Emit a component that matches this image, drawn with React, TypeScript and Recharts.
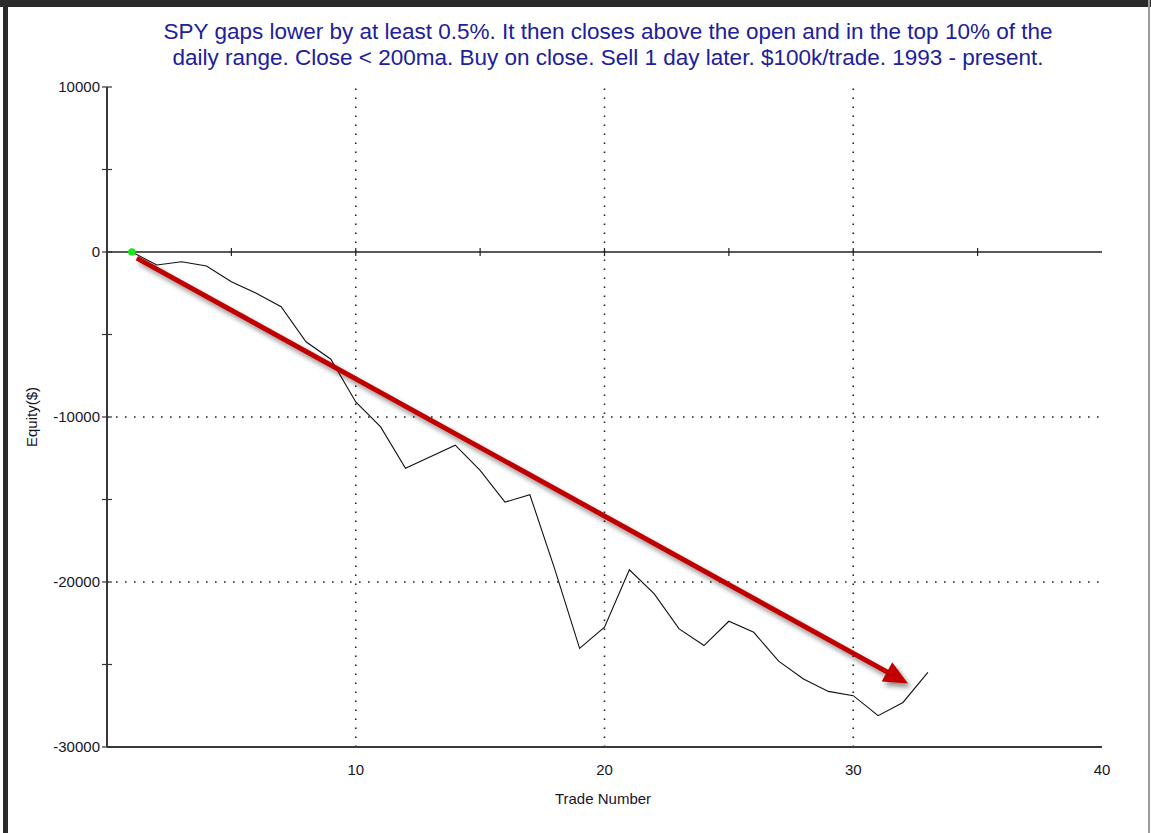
import React from 'react';
import { LineChart, Line, XAxis, YAxis, ReferenceLine, ReferenceDot } from 'recharts';

const tradeNumbers = [1, 2, 3, 4, 5, 6, 7, 8, 9, 10, 11, 12, 13, 14, 15, 16, 17, 18, 19, 20, 21, 22, 23, 24, 25, 26, 27, 28, 29, 30, 31, 32, 33];
const equity = [0, -790, -590, -850, -1800, -2500, -3320, -5440, -6500, -9090, -10600, -13110, -12410, -11710, -13230, -15160, -14710, -19220, -24020, -22740, -19260, -20720, -22840, -23850, -22380, -23050, -24800, -25880, -26630, -26890, -28100, -27300, -25480];

const xTicks = [10, 20, 30, 40];
const yTicks = [-30000, -25000, -20000, -15000, -10000, -5000, 0, 5000, 10000];
const gridX = [10, 20, 30];
const gridY = [-10000, -20000];
const zeroLineTicks = [5, 10, 15, 20, 25, 30, 35];

// trend arrow drawn on the chart (trade, equity)
const arrowFrom = { trade: 1.2, equity: -370 };
const arrowTo = { trade: 32.2, equity: -26150 };

const titleLines = [
  'SPY gaps lower by at least 0.5%. It then closes above the open and in the top 10% of the',
  'daily range. Close < 200ma. Buy on close. Sell 1 day later. $100k/trade. 1993 - present.',
];

const data = tradeNumbers.map((t, i) => ({ trade: t, equity: equity[i] }));

const FONT = '"Liberation Sans", Arial, sans-serif';
const TEXT = '#16162a';

const YTick = (props: any) => {
  const { x, y, payload } = props;
  const v = payload.value;
  return (
    <g>
      <line x1={x + 2} x2={x + 12} y1={y} y2={y} stroke="#333" strokeWidth={1.2} />
      {v % 10000 === 0 && (
        <text x={x} y={y} dy="0.36em" textAnchor="end" fontSize={15} fontFamily={FONT} fill={TEXT}>
          {v}
        </text>
      )}
    </g>
  );
};

const Arrow = (props: any) => {
  const { x1, y1, x2, y2 } = props;
  const dx = x2 - x1;
  const dy = y2 - y1;
  const len = Math.sqrt(dx * dx + dy * dy);
  const ux = dx / len;
  const uy = dy / len;
  const headLen = 24;
  const headHalf = 11;
  const bx = x2 - ux * headLen;
  const by = y2 - uy * headLen;
  const pts = `${x2},${y2} ${bx - uy * headHalf},${by + ux * headHalf} ${bx + uy * headHalf},${by - ux * headHalf}`;
  return (
    <g filter="url(#arrowShadow)">
      <defs>
        <filter id="arrowShadow" x="-20%" y="-20%" width="140%" height="140%">
          <feDropShadow dx="3" dy="4" stdDeviation="2.5" floodColor="#000" floodOpacity="0.45" />
        </filter>
      </defs>
      <line x1={x1} y1={y1} x2={bx + ux * 2} y2={by + uy * 2} stroke="#c00000" strokeWidth={5} />
      <polygon points={pts} fill="#c00000" />
    </g>
  );
};

const ZeroTick = (props: any) => {
  const { cx, cy } = props;
  return <line x1={cx} x2={cx} y1={cy - 4} y2={cy + 4} stroke="#222" strokeWidth={1.2} />;
};

const StartDot = (props: any) => {
  const { cx, cy, index } = props;
  if (index !== 0) return <g key={`d${index}`} />;
  return <circle key="start" cx={cx} cy={cy} r={3.8} fill="#1ee61e" stroke="none" />;
};

export default function App() {
  return (
    <div style={{ position: 'absolute', left: 0, top: 0, width: 1151, height: 833, background: '#fff', overflow: 'hidden' }}>
      <div style={{ position: 'absolute', left: 0, top: 0, width: 1151, height: 7, background: '#2b2b2b' }} />
      <div style={{ position: 'absolute', left: 3, top: 0, width: 5, height: 833, background: '#2b2b2b' }} />
      <div style={{ position: 'absolute', left: 1148, top: 0, width: 2, height: 833, background: '#9a9a9a' }} />

      <div
        style={{
          position: 'absolute',
          left: 108,
          top: 19,
          width: 1000,
          textAlign: 'center',
          fontFamily: FONT,
          fontSize: 22.5,
          lineHeight: '26px',
          color: '#20209a',
        }}
      >
        {titleLines.map((l) => (
          <div key={l}>{l}</div>
        ))}
      </div>

      <div style={{ position: 'absolute', left: 0, top: 0 }}>
        <LineChart width={1151} height={833} data={data} margin={{ top: 87, right: 49, bottom: 46, left: 47 }}>
          <XAxis
            xAxisId="top"
            orientation="top"
            dataKey="trade"
            type="number"
            domain={[0, 40]}
            height={0}
            tick={false}
            tickLine={false}
            axisLine={{ stroke: '#3a3a3a', strokeWidth: 2 }}
          />
          <XAxis
            dataKey="trade"
            type="number"
            domain={[0, 40]}
            ticks={xTicks}
            height={40}
            tickSize={0}
            tickMargin={17}
            tickLine={false}
            axisLine={{ stroke: '#3a3a3a', strokeWidth: 2 }}
            tick={{ fontSize: 15, fontFamily: FONT, fill: TEXT }}
          />
          <YAxis
            type="number"
            domain={[-30000, 10000]}
            ticks={yTicks}
            width={60}
            tickSize={0}
            tickMargin={7}
            tickLine={false}
            interval={0}
            axisLine={{ stroke: '#3a3a3a', strokeWidth: 2 }}
            tick={<YTick />}
          />
          <YAxis
            yAxisId="right"
            orientation="right"
            type="number"
            domain={[-30000, 10000]}
            width={0}
            tick={false}
            tickLine={false}
            axisLine={{ stroke: '#3a3a3a', strokeWidth: 2 }}
          />
          {gridX.map((g) => (
            <ReferenceLine key={`gx${g}`} x={g} stroke="#222" strokeWidth={1.6} strokeDasharray="1.6 7.4" />
          ))}
          {gridY.map((g) => (
            <ReferenceLine key={`gy${g}`} y={g} stroke="#222" strokeWidth={1.6} strokeDasharray="1.6 7.4" />
          ))}
          <ReferenceLine y={0} stroke="#222" strokeWidth={1.5} />
          {zeroLineTicks.map((t) => (
            <ReferenceDot key={`zt${t}`} x={t} y={0} r={0} shape={<ZeroTick />} />
          ))}
          <Line
            dataKey="equity"
            stroke="#111"
            strokeWidth={1.1}
            dot={<StartDot />}
            activeDot={false}
            isAnimationActive={false}
          />
          <ReferenceLine
            segment={[
              { x: arrowFrom.trade, y: arrowFrom.equity },
              { x: arrowTo.trade, y: arrowTo.equity },
            ]}
            ifOverflow="visible"
            shape={<Arrow />}
          />
        </LineChart>
      </div>

      <div
        style={{
          position: 'absolute',
          left: 503,
          top: 790,
          width: 200,
          textAlign: 'center',
          fontFamily: FONT,
          fontSize: 15,
          color: TEXT,
        }}
      >
        Trade Number
      </div>
      <div
        style={{
          position: 'absolute',
          left: 31,
          top: 417,
          transform: 'translate(-50%, -50%) rotate(-90deg)',
          fontFamily: FONT,
          fontSize: 15,
          color: TEXT,
          whiteSpace: 'nowrap',
        }}
      >
        Equity($)
      </div>
    </div>
  );
}
